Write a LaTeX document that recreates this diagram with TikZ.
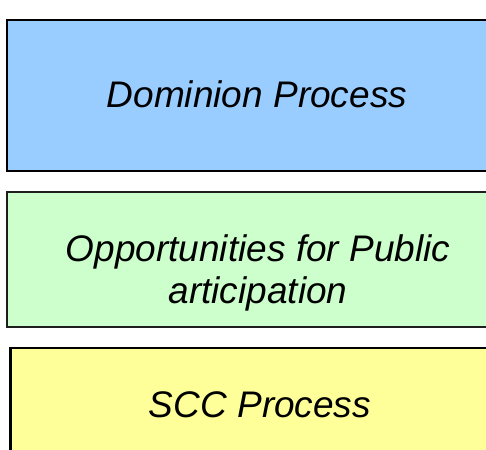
\documentclass[tikz,border=0pt]{standalone}
\usepackage{fontspec}
\setmainfont{Liberation Sans}
\begin{document}
\begin{tikzpicture}[x=1pt,y=1pt,
  boxstyle/.style={draw=black, line width=2pt},
  lbl/.style={font=\fontsize{37}{42}\selectfont\itshape, align=center, inner sep=0pt}]
\useasboundingbox (0,0) rectangle (486,449);
\clip (0,0) rectangle (486,449);
\fill[white] (0,0) rectangle (486,449);
\draw[boxstyle, fill={rgb,255:red,153;green,204;blue,255}] (7,429) rectangle (520,278);
\draw[boxstyle, draw={rgb,255:red,30;green,30;blue,30}, fill={rgb,255:red,204;green,255;blue,204}] (7,257) rectangle (486.5,122);
\draw[boxstyle, line width=2.5pt, fill={rgb,255:red,255;green,255;blue,153}] (10.5,101) rectangle (520,-20);
\node[lbl, anchor=base] (dom) at (257,341) {Dominion Process};
\node[lbl, anchor=base] (opp1) at (258,187) {Opportunities for Public};
\node[lbl, anchor=base] (opp2) at (258,145) {articipation};
\node[lbl, anchor=base] (scc) at (260,32) {SCC Process};
\end{tikzpicture}
\end{document}
